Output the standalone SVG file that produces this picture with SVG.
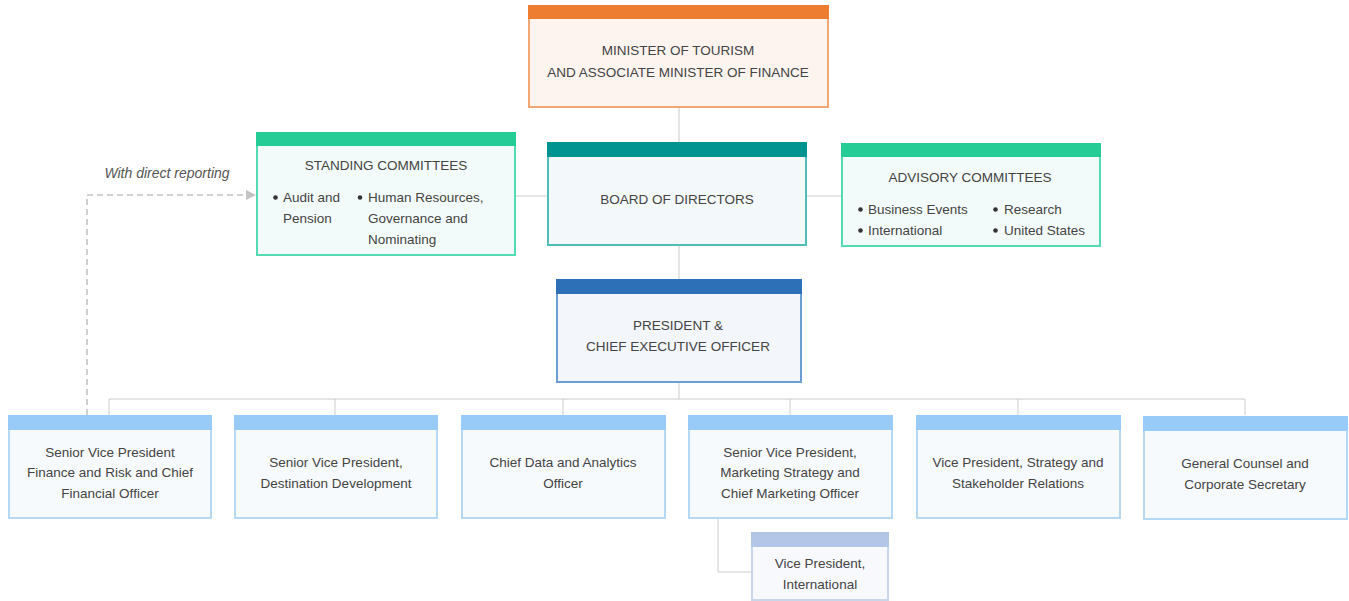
<svg xmlns="http://www.w3.org/2000/svg" width="1349" height="601" viewBox="0 0 1349 601">
<defs>
<style>
text{font-family:"Liberation Sans",Arial,sans-serif;font-size:13.5px;fill:#444;}
.c{text-anchor:middle;}
.ln{stroke:#ccc;stroke-width:1;fill:none;}
.dot{fill:#333;}
.role rect.b{fill:#f7fafd;stroke:#b5d8f5;stroke-width:2;}
.role rect.h{fill:#99cbf9;}
</style>
<marker id="arr" viewBox="0 0 10 10" refX="9" refY="5" markerWidth="10" markerHeight="10" markerUnits="userSpaceOnUse" orient="auto">
<path d="M0,0 L10,5 L0,10 z" fill="#c4c4c4"/>
</marker>
</defs>
<rect width="1349" height="601" fill="#fff"/>
<g id="connectors">
<path class="ln" d="M679,107 V142"/>
<path class="ln" d="M515,196 H548"/>
<path class="ln" d="M806,196 H841"/>
<path class="ln" d="M679,245 V279"/>
<path class="ln" d="M679,382 V399"/>
<path class="ln" d="M109,399 H1245"/>
<path class="ln" d="M109,399 V415 M335,399 V415 M563,399 V415 M790,399 V415 M1018,399 V415 M1245,399 V415"/>
<path class="ln" d="M718,518 V572 H751"/>
<path d="M87,415 V195 H255" fill="none" stroke="#c4c4c4" stroke-width="1.6" stroke-dasharray="6,4" marker-end="url(#arr)"/>
<text x="167" y="178" class="c" font-style="italic" style="font-size:14px;fill:#555">With direct reporting</text>
</g>
<g id="minister">
<rect x="529" y="6" width="299" height="101" fill="#fdf3ef" stroke="#f2a773" stroke-width="2"/>
<rect x="528" y="5" width="301" height="14" fill="#ed7d31"/>
<text x="678" y="55" class="c">MINISTER OF TOURISM</text>
<text x="678" y="77" class="c">AND ASSOCIATE MINISTER OF FINANCE</text>
</g>
<g id="standing">
<rect x="257" y="133" width="258" height="122" fill="#f3fbfa" stroke="#55dbb4" stroke-width="2"/>
<rect x="256" y="132" width="260" height="14" fill="#26cc95"/>
<text x="386" y="170" class="c">STANDING COMMITTEES</text>
<circle class="dot" cx="275.5" cy="197.5" r="2.3"/>
<text x="283" y="202">Audit and</text>
<text x="283" y="223">Pension</text>
<circle class="dot" cx="360" cy="197.5" r="2.3"/>
<text x="368" y="202">Human Resources,</text>
<text x="368" y="223">Governance and</text>
<text x="368" y="244">Nominating</text>
</g>
<g id="board">
<rect x="548" y="143" width="258" height="102" fill="#f3f8fa" stroke="#4fbdb8" stroke-width="2"/>
<rect x="547" y="142" width="260" height="15" fill="#009490"/>
<text x="677" y="204" class="c">BOARD OF DIRECTORS</text>
</g>
<g id="advisory">
<rect x="842" y="144" width="258" height="102" fill="#f3fbfa" stroke="#55dbb4" stroke-width="2"/>
<rect x="841" y="143" width="260" height="14" fill="#26cc95"/>
<text x="970" y="182" class="c">ADVISORY COMMITTEES</text>
<circle class="dot" cx="860.5" cy="209.5" r="2.3"/>
<text x="868" y="214">Business Events</text>
<circle class="dot" cx="860.5" cy="230.5" r="2.3"/>
<text x="868" y="235">International</text>
<circle class="dot" cx="995.5" cy="209.5" r="2.3"/>
<text x="1004" y="214">Research</text>
<circle class="dot" cx="995.5" cy="230.5" r="2.3"/>
<text x="1004" y="235">United States</text>
</g>
<g id="president">
<rect x="557" y="280" width="244" height="102" fill="#f3f6fa" stroke="#6b9fd4" stroke-width="2"/>
<rect x="556" y="279" width="246" height="15" fill="#2e70b7"/>
<text x="678" y="330" class="c">PRESIDENT &amp;</text>
<text x="678" y="351" class="c">CHIEF EXECUTIVE OFFICER</text>
</g>
<g id="svp-finance" class="role">
<rect class="b" x="9" y="416" width="202" height="102"/>
<rect class="h" x="8" y="415" width="204" height="15"/>
<text x="110" y="457" class="c">Senior Vice President</text>
<text x="110" y="477" class="c">Finance and Risk and Chief</text>
<text x="110" y="498" class="c">Financial Officer</text>
</g>
<g id="svp-destination" class="role">
<rect class="b" x="235" y="416" width="202" height="102"/>
<rect class="h" x="234" y="415" width="204" height="15"/>
<text x="336" y="467" class="c">Senior Vice President,</text>
<text x="336" y="488" class="c">Destination Development</text>
</g>
<g id="cdao" class="role">
<rect class="b" x="462" y="416" width="203" height="102"/>
<rect class="h" x="461" y="415" width="205" height="15"/>
<text x="563" y="467" class="c">Chief Data and Analytics</text>
<text x="563" y="488" class="c">Officer</text>
</g>
<g id="svp-marketing" class="role">
<rect class="b" x="689" y="416" width="203" height="102"/>
<rect class="h" x="688" y="415" width="205" height="15"/>
<text x="790" y="457" class="c">Senior Vice President,</text>
<text x="790" y="477" class="c">Marketing Strategy and</text>
<text x="790" y="498" class="c">Chief Marketing Officer</text>
</g>
<g id="vp-strategy" class="role">
<rect class="b" x="917" y="416" width="203" height="102"/>
<rect class="h" x="916" y="415" width="205" height="15"/>
<text x="1018" y="467" class="c">Vice President, Strategy and</text>
<text x="1018" y="488" class="c">Stakeholder Relations</text>
</g>
<g id="general-counsel" class="role">
<rect class="b" x="1144" y="417" width="203" height="102"/>
<rect class="h" x="1143" y="416" width="205" height="15"/>
<text x="1245" y="468" class="c">General Counsel and</text>
<text x="1245" y="489" class="c">Corporate Secretary</text>
</g>
<g id="vp-international">
<rect x="752" y="533" width="136" height="67" fill="#f7f9fc" stroke="#c9d6ea" stroke-width="2"/>
<rect x="751" y="532" width="138" height="15" fill="#b3c6e8"/>
<text x="820" y="568" class="c">Vice President,</text>
<text x="820" y="589" class="c">International</text>
</g>
</svg>
